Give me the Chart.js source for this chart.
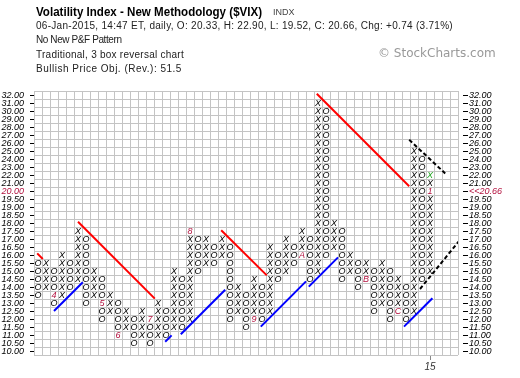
<!DOCTYPE html>
<html>
<head>
<meta charset="utf-8">
<script src="https://cdn.jsdelivr.net/npm/chart.js@4.4.1/dist/chart.umd.min.js"></script>
<style>
  body { margin: 0; background: #fff; }
  #wrap { position: relative; width: 520px; height: 378px; overflow: hidden; font-family: "Liberation Sans", Arial, sans-serif; }
  #pf { position: absolute; left: 0; top: 0; }
  .t { position: absolute; white-space: nowrap; color: #222; font-size: 10px; line-height: 1; }
  #title { left: 36px; top: 5px; font-weight: bold; font-size: 13px; color: #000; transform: scaleX(0.89); transform-origin: 0 0; }
  #exch { left: 273px; top: 8px; font-size: 9px; color: #444; }
  #info { left: 36px; top: 21px; letter-spacing: 0.29px; }
  #patt { left: 36px; top: 35px; letter-spacing: -0.4px; }
  #kind { left: 36px; top: 50px; letter-spacing: 0.25px; }
  #obj  { left: 36px; top: 64px; letter-spacing: 0.5px; }
  #copy { left: 378px; top: 46px; font: 12px "DejaVu Sans", sans-serif; color: #999; }
</style>
</head>
<body>
<div id="wrap">
  <canvas id="pf" width="520" height="378"></canvas>
  <div class="t" id="title">Volatility Index - New Methodology ($VIX)</div>
  <div class="t" id="exch">INDX</div>
  <div class="t" id="info">06-Jan-2015, 14:47 ET, daily, O: 20.33, H: 22.90, L: 19.52, C: 20.66, Chg: +0.74 (3.71%)</div>
  <div class="t" id="patt">No New P&amp;F Pattern</div>
  <div class="t" id="kind">Traditional, 3 box reversal chart</div>
  <div class="t" id="obj">Bullish Price Obj. (Rev.): 51.5</div>
  <div class="t" id="copy">&copy; StockCharts.com</div>
</div>
<script>
// box levels, top to bottom (box size changes at 20)
const levels = ['32.00','31.00','30.00','29.00','28.00','27.00','26.00','25.00','24.00','23.00','22.00','21.00','20.00',
  '19.50','19.00','18.50','18.00','17.50','17.00','16.50','16.00','15.50','15.00','14.50','14.00','13.50','13.00',
  '12.50','12.00','11.50','11.00','10.50','10.00'];

// one entry per P&F column
const colKinds = 'OXOXOXOXOXOXOXOXOXOXOXOXOXOXOXOXOXOXOXOXOXOXOXOXOX';
const colTop = [15.5,15.5,15,16,15.5,17.5,17,15,14.5,13.5,13,12.5,12,12.5,12,13,12.5,15,14.5,17.5,
  17,17,16.5,17,16.5,14,13.5,14.5,14,16.5,16,17,16.5,17.5,17,31,30,18,17.5,16,
  15.5,15.5,15,15.5,15,14.5,14,25,24,22];
const colBottom = [13.5,14,13,13.5,14,14.5,13,13.5,12,12.5,11,11.5,10.5,11,10.5,11,11,11.5,11.5,12,
  15,15.5,15.5,16,12,12.5,11.5,12,12,12.5,14.5,15,15.5,16,14.5,15,16,16.5,14.5,15,
  14,14.5,12.5,13,12,12.5,12,12.5,14.5,15];

// month markers
const markCols = [2, 8, 10, 14, 19, 27, 33, 41, 45, 49];
const markLevels = [13.5, 13, 11, 12, 17.5, 12, 16, 14.5, 12.5, 20];
const markTexts = ['4', '5', '6', '7', '8', '9', 'A', 'B', 'C', '1'];

const lastBox = 22;
const lastPrice = '20.66';
const gridCols = 53;
const yearCol = 49;
const yearLabel = '15';

// trend lines as [col, row, col, row]
const redLines = [[-0.1, 19.8, 0.6, 20.5], [5, 15.85, 14.6, 25.45], [22.9, 16.9, 28.6, 22.55], [34.85, -0.15, 46.4, 11.4]];
const blueLines = [[2, 27, 5.6, 23.4], [15.9, 30.85, 16.7, 30.05], [17.85, 29.9, 23.4, 24.35],
  [27.85, 28.95, 33.5, 23.3], [33.85, 23.95, 37.5, 20.3], [45.75, 28.95, 49.3, 25.4]];
const projLines = [[46.4, 5.6, 50.9, 9.8], [47.75, 24.25, 52.6, 18.3]];

const markRed = '#b3123f';
const gridColor = '#c4c4c4';
const tickFont = { family: 'Liberation Sans', size: 9, style: 'italic' };

function rowOf(p) { return levels.indexOf(Number(p).toFixed(2)); }

function glyph(text, color) {
  const c = document.createElement('canvas');
  c.width = 10; c.height = 10;
  const g = c.getContext('2d');
  g.font = 'italic 9px "Liberation Sans"';
  g.fillStyle = color;
  g.textAlign = 'center';
  g.textBaseline = 'alphabetic';
  g.fillText(text, 5, 8.3);
  return c;
}
const glyphs = { X: glyph('X', '#000'), O: glyph('O', '#000'), Xg: glyph('X', '#1fa51f') };
markTexts.forEach(t => { glyphs[t] = glyph(t, markRed); });

const marks = [];
colKinds.split('').forEach((k, c) => {
  for (let r = rowOf(colTop[c]); r <= rowOf(colBottom[c]); r++) {
    let s = k;
    const m = markCols.findIndex((mc, i) => mc === c && rowOf(markLevels[i]) === r);
    if (m >= 0) s = markTexts[m];
    else if (c === colKinds.length - 1 && r === rowOf(lastBox)) s = 'Xg';
    marks.push({ x: c, y: r, s: s });
  }
});

function lineSet(seg, color, dash) {
  return {
    type: 'line',
    data: [{ x: seg[0], y: seg[1] }, { x: seg[2], y: seg[3] }],
    borderColor: color, borderWidth: 2, borderDash: dash || [],
    pointRadius: 0, fill: false, showLine: true, order: 0
  };
}

const datasets = [{
  data: marks,
  pointStyle: ctx => glyphs[ctx.raw ? ctx.raw.s : 'X'],
  pointRadius: 4,
  order: 1
}];
redLines.forEach(s => datasets.push(lineSet(s, '#ff0000')));
blueLines.forEach(s => datasets.push(lineSet(s, '#0000ff')));
projLines.forEach(s => datasets.push(lineSet(s, '#000', [4, 2.5])));

const halfTicks = n => s => { s.ticks = []; for (let i = 0; i <= n; i++) s.ticks.push({ value: i - 0.5 }); };
const levelTicks = s => { s.ticks = levels.map((_, i) => ({ value: i })); };
const hot = rowOf(20);

new Chart(document.getElementById('pf'), {
  type: 'scatter',
  data: { datasets },
  options: {
    responsive: false,
    animation: false,
    events: [],
    layout: { padding: { top: 91 } },
    plugins: { legend: { display: false }, tooltip: { enabled: false } },
    scales: {
      x: {
        type: 'linear', position: 'bottom', min: -0.5, max: gridCols - 0.5, bounds: 'data',
        afterBuildTicks: halfTicks(gridCols),
        grid: { color: gridColor, drawTicks: false }, border: { display: false },
        ticks: { display: false }, afterFit: s => { s.height = 0; }
      },
      xb: {
        type: 'linear', position: 'bottom', min: -0.5, max: gridCols - 0.5,
        afterBuildTicks: s => { s.ticks = [{ value: yearCol }]; },
        ticks: { callback: () => yearLabel, font: { family: 'Liberation Sans', size: 10, style: 'italic' }, color: '#333', padding: 1, maxRotation: 0, autoSkip: false },
        grid: { drawOnChartArea: false, tickLength: 5, color: '#888' }, border: { display: false },
        afterFit: s => { s.height = 23; }
      },
      y: {
        type: 'linear', position: 'left', reverse: true, min: -0.5, max: levels.length - 0.5, bounds: 'data',
        afterBuildTicks: halfTicks(levels.length),
        grid: { color: gridColor, drawTicks: false }, border: { display: false },
        ticks: { display: false }, afterFit: s => { s.width = 0; }
      },
      yl: {
        type: 'linear', position: 'left', reverse: true, min: -0.5, max: levels.length - 0.5,
        afterBuildTicks: levelTicks,
        ticks: { callback: v => levels[v], font: tickFont, color: c => c.tick && c.tick.value === hot ? markRed : '#000', padding: 6, autoSkip: false },
        grid: { drawOnChartArea: false, tickLength: 4, color: '#000' }, border: { display: false },
        afterFit: s => { s.width = 34; }
      },
      yr: {
        type: 'linear', position: 'right', reverse: true, min: -0.5, max: levels.length - 0.5,
        afterBuildTicks: levelTicks,
        ticks: { callback: v => v === hot ? '<<' + lastPrice : levels[v], font: tickFont, color: c => c.tick && c.tick.value === hot ? markRed : '#000', padding: 1, autoSkip: false },
        grid: { drawOnChartArea: false, tickLength: 10, color: '#000', tickBorderDash: [5, 5], tickBorderDashOffset: 5 },
        border: { display: false },
        afterFit: s => { s.width = 62; }
      }
    }
  }
});
</script>
</body>
</html>
